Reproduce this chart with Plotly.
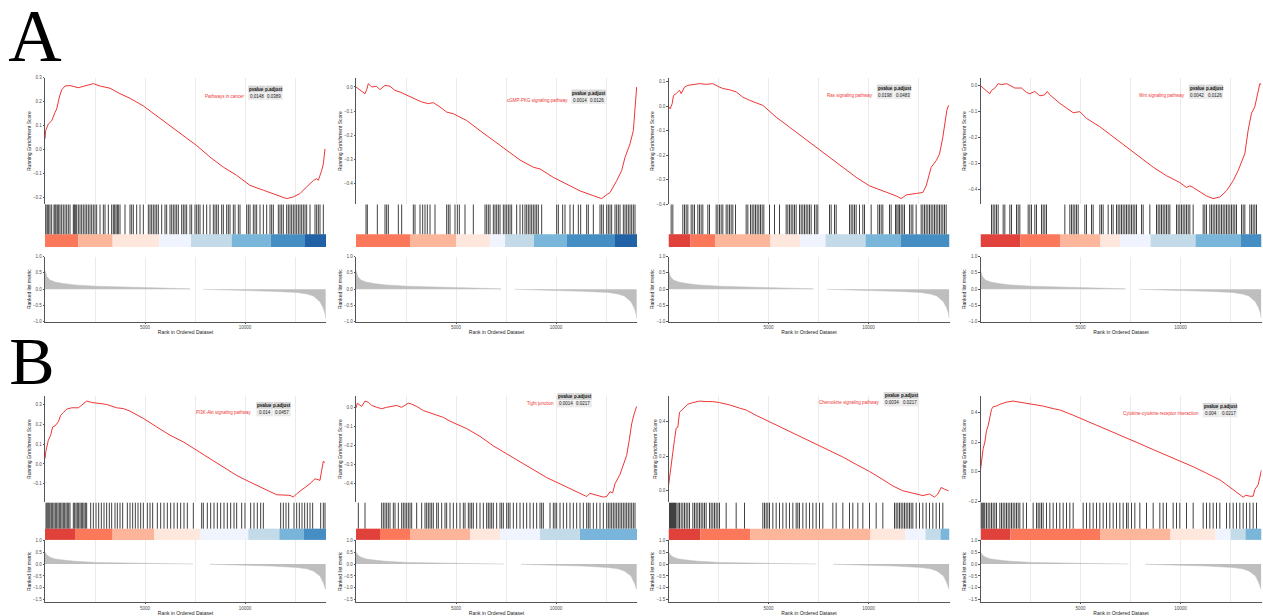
import plotly.graph_objects as go

FIG_W, FIG_H = 1263, 616
N_GENES = 14050

# ---------------- ranked list metric (row A / row B) ----------------
rankA_pos_x = [1, 100, 250, 500, 917, 1500, 2583, 3800, 5083, 6200, 7250]
rankA_pos_y = [0.57, 0.38, 0.28, 0.22, 0.17, 0.13, 0.09, 0.065, 0.05, 0.03, 0.01]
rankA_neg_x = [7917, 9000, 10083, 11300, 12583, 13100, 13417, 13750, 13917, 14000, 14033]
rankA_neg_y = [-0.005, -0.02, -0.04, -0.065, -0.1, -0.15, -0.21, -0.39, -0.59, -0.75, -0.9]
rankB_pos_x = [1, 100, 250, 500, 917, 1500, 2583, 3800, 5083, 6300, 7400]
rankB_pos_y = [0.5, 0.38, 0.29, 0.22, 0.17, 0.12, 0.07, 0.045, 0.03, 0.015, 0.005]
rankB_neg_x = [8250, 9000, 10083, 11300, 12583, 13100, 13417, 13750, 13917, 14000, 14033]
rankB_neg_y = [-0.005, -0.02, -0.04, -0.08, -0.14, -0.2, -0.29, -0.5, -0.79, -0.95, -1.07]

# ---------------- pathway labels / statistics ----------------
pathways = ["Pathways in cancer", "cGMP-PKG signaling pathway", "Ras signaling pathway",
            "Wnt signaling pathway", "PI3K-Akt signaling pathway", "Tight junction",
            "Chemokine signaling pathway", "Cytokine-cytokine receptor interaction"]
pvalues = ["0.0148", "0.0014", "0.0198", "0.0042", "0.014", "0.0014", "0.0034", "0.004"]
padjust = ["0.0389", "0.0126", "0.0483", "0.0126", "0.0457", "0.0217", "0.0217", "0.0217"]

# ---------------- running enrichment score curves ----------------
es_rank_A1 = [0, 33, 167, 333, 500, 583, 717, 833, 1000, 1250, 1667, 2083, 2417, 2750, 3250, 3750, 4250, 4917, 5583, 6250, 6917, 7583, 8250, 8917, 9583, 10250, 10917, 11583, 12083, 12417, 12750, 13083, 13417, 13583, 13667, 13833, 13917, 14000]
es_val_A1 = [0.046, 0.08, 0.108, 0.121, 0.156, 0.17, 0.22, 0.25, 0.266, 0.268, 0.259, 0.27, 0.276, 0.266, 0.257, 0.234, 0.215, 0.183, 0.142, 0.1, 0.059, 0.018, -0.03, -0.072, -0.106, -0.148, -0.168, -0.189, -0.203, -0.196, -0.182, -0.154, -0.128, -0.12, -0.127, -0.086, -0.058, 0.004]
es_rank_A2 = [0, 200, 450, 533, 617, 783, 1033, 1200, 1450, 1700, 1950, 2200, 2450, 2700, 2950, 3283, 3617, 3867, 4200, 4533, 4867, 5533, 6200, 6867, 7533, 8200, 8867, 9200, 9867, 10533, 11200, 11867, 12283, 12533, 12700, 13033, 13283, 13450, 13700, 13867, 13950, 14033]
es_val_A2 = [0.0, -0.011, -0.028, -0.011, 0.014, 0.0, 0.003, -0.011, 0.007, 0.003, -0.014, -0.021, -0.031, -0.042, -0.049, -0.062, -0.069, -0.065, -0.083, -0.104, -0.111, -0.139, -0.181, -0.222, -0.264, -0.303, -0.333, -0.34, -0.375, -0.403, -0.431, -0.451, -0.463, -0.447, -0.438, -0.389, -0.347, -0.292, -0.236, -0.181, -0.083, 0.0]
es_rank_A3 = [0, 83, 183, 250, 383, 550, 633, 800, 967, 1217, 1550, 1883, 2217, 2467, 2717, 3050, 3383, 3717, 4050, 4717, 5383, 6050, 6717, 7383, 8050, 8717, 9383, 10050, 10717, 11383, 11633, 11883, 12383, 12717, 12883, 13133, 13383, 13550, 13717, 13800, 13917, 14000]
es_val_A3 = [0, -0.01, 0.011, 0.045, 0.052, 0.066, 0.052, 0.079, 0.086, 0.09, 0.093, 0.09, 0.093, 0.082, 0.073, 0.068, 0.059, 0.038, 0.025, 0.004, -0.044, -0.085, -0.126, -0.17, -0.208, -0.249, -0.29, -0.325, -0.345, -0.366, -0.377, -0.362, -0.356, -0.352, -0.325, -0.249, -0.222, -0.195, -0.126, -0.085, -0.016, 0.004]
es_rank_A4 = [0, 217, 467, 550, 717, 883, 1050, 1300, 1467, 1717, 2050, 2300, 2467, 2717, 2967, 3217, 3333, 3467, 3967, 4300, 4633, 4967, 5300, 5967, 6633, 7300, 7967, 8633, 9300, 9967, 10300, 10467, 10633, 11300, 11633, 11967, 12300, 12633, 12883, 13050, 13217, 13383, 13550, 13717, 13883, 13967, 14050]
es_val_A4 = [0, -0.016, -0.031, -0.018, -0.009, 0.008, 0.004, 0.008, 0, -0.009, -0.009, -0.026, -0.031, -0.022, -0.039, -0.035, -0.022, -0.035, -0.068, -0.087, -0.104, -0.1, -0.126, -0.158, -0.197, -0.236, -0.275, -0.314, -0.347, -0.373, -0.392, -0.386, -0.392, -0.425, -0.435, -0.429, -0.405, -0.366, -0.327, -0.295, -0.262, -0.171, -0.106, -0.081, -0.029, 0.008, 0.004]
es_rank_B1 = [0, 50, 167, 283, 383, 500, 667, 783, 917, 1083, 1333, 1667, 1833, 2083, 2333, 2667, 3083, 3583, 3917, 4250, 4917, 5583, 6250, 6917, 7583, 8250, 8917, 9583, 10250, 10917, 11583, 12250, 12417, 12583, 12917, 13250, 13500, 13750, 13833, 13917, 14000]
es_val_B1 = [0.027, 0.069, 0.12, 0.146, 0.188, 0.193, 0.214, 0.247, 0.261, 0.278, 0.285, 0.285, 0.298, 0.319, 0.312, 0.307, 0.302, 0.285, 0.281, 0.268, 0.231, 0.188, 0.146, 0.112, 0.069, 0.027, -0.015, -0.058, -0.092, -0.125, -0.156, -0.159, -0.168, -0.151, -0.125, -0.1, -0.075, -0.083, -0.032, 0.014, 0.007]
es_rank_B2 = [0, 67, 283, 450, 617, 783, 1033, 1283, 1533, 1783, 2033, 2283, 2450, 2617, 2783, 3033, 3367, 3867, 4367, 4700, 5033, 5533, 6200, 6867, 7533, 8200, 8867, 9533, 10200, 10867, 11200, 11533, 11700, 12033, 12367, 12533, 12700, 12833, 12950, 13200, 13367, 13533, 13667, 13783, 13900, 14033]
es_val_B2 = [-0.003, 0.022, 0.005, 0.033, 0.027, 0.01, 0, -0.007, 0, 0.005, 0.01, 0, 0.013, 0.022, 0.017, 0.005, -0.017, -0.033, -0.053, -0.073, -0.087, -0.112, -0.153, -0.203, -0.245, -0.287, -0.328, -0.37, -0.403, -0.437, -0.453, -0.47, -0.453, -0.462, -0.473, -0.47, -0.445, -0.45, -0.403, -0.353, -0.303, -0.253, -0.17, -0.087, -0.037, 0.005]
es_rank_B3 = [0, 83, 183, 300, 383, 467, 550, 717, 967, 1217, 1550, 1883, 2217, 2550, 3050, 3550, 3883, 4383, 4717, 5383, 6050, 6717, 7383, 8050, 8717, 9383, 10050, 10717, 11217, 11717, 12383, 12717, 13050, 13300, 13467, 13633, 13800, 14000]
es_val_B3 = [0.028, 0.112, 0.205, 0.298, 0.363, 0.369, 0.456, 0.475, 0.503, 0.512, 0.521, 0.518, 0.518, 0.512, 0.499, 0.48, 0.469, 0.438, 0.419, 0.382, 0.345, 0.307, 0.27, 0.233, 0.196, 0.153, 0.112, 0.065, 0.028, 0, -0.019, -0.028, -0.019, -0.037, -0.019, 0.019, 0.009, 0]
es_rank_B4 = [0, 50, 133, 217, 300, 383, 467, 550, 633, 800, 967, 1300, 1633, 1967, 2300, 2633, 3133, 3633, 3967, 4633, 5300, 5967, 6633, 7300, 7967, 8633, 9300, 9967, 10633, 11300, 11967, 12300, 12633, 12967, 13133, 13267, 13467, 13633, 13717, 13883, 14050]
es_val_B4 = [0.011, 0.078, 0.156, 0.2, 0.278, 0.311, 0.378, 0.422, 0.44, 0.444, 0.456, 0.471, 0.478, 0.471, 0.462, 0.456, 0.444, 0.427, 0.418, 0.382, 0.344, 0.307, 0.267, 0.227, 0.189, 0.149, 0.111, 0.071, 0.033, -0.011, -0.056, -0.089, -0.122, -0.151, -0.173, -0.16, -0.167, -0.167, -0.122, -0.089, 0.011]

# ---------------- gene-set hit positions (ranks) ----------------
hits_A1 = [0, 50, 117, 183, 250, 333, 450, 500, 550, 617, 683, 750, 833, 917, 1000, 1083, 1167, 1250, 1417, 1467, 1517, 1583, 1667, 1750, 1833, 1917, 2000, 2083, 2167, 2250, 2333, 2417, 2500, 2583, 2750, 2917, 3000, 3167, 3333, 3417, 3483, 3550, 3617, 3667, 3750, 4000, 4250, 4333, 4417, 4583, 4750, 4917, 5167, 5250, 5333, 5417, 5500, 5583, 5667, 5833, 6000, 6083, 6250, 6333, 6417, 6500, 6583, 6667, 6833, 6917, 7000, 7083, 7250, 7333, 7500, 7583, 7667, 7750, 7917, 8083, 8250, 8417, 8500, 8583, 8667, 8833, 8917, 9083, 9167, 9250, 9417, 9500, 9667, 9750, 10083, 10167, 10250, 10417, 10500, 10583, 10750, 10917, 11083, 11250, 11333, 11417, 11667, 11750, 11833, 11917, 12083, 12167, 12250, 12333, 12417, 12500, 12583, 12667, 12750, 12833, 12917, 13000, 13083, 13250, 13500, 13583, 13667, 13750, 13917]
hits_A2 = [500, 567, 1067, 1450, 1533, 1617, 2117, 2283, 2867, 2950, 3200, 3333, 3450, 3567, 3700, 3950, 4533, 4617, 4700, 4950, 5067, 5167, 5450, 5867, 6450, 6533, 6617, 6700, 6867, 6950, 7033, 7117, 7200, 7367, 7450, 7533, 7617, 7700, 7783, 8033, 8200, 8333, 8450, 8533, 8617, 8700, 8783, 8867, 8950, 9033, 9117, 9283, 10033, 10117, 10333, 10450, 10700, 10867, 11117, 11233, 11533, 11617, 11867, 12200, 12283, 12367, 12533, 12617, 12700, 12783, 12950, 13033, 13117, 13200, 13367, 13450, 13533, 13617, 13700, 13783, 13867, 13950]
hits_A3 = [133, 217, 717, 800, 883, 967, 1133, 1217, 1300, 1467, 1550, 1633, 1717, 1967, 2050, 2383, 2467, 2550, 2633, 2717, 2883, 2967, 3050, 3133, 3217, 3350, 3883, 3967, 4100, 4183, 4267, 4350, 4433, 4517, 4600, 4683, 4767, 5050, 5300, 5550, 5883, 5967, 6050, 6133, 6217, 6300, 6383, 6550, 6633, 6717, 6800, 6883, 6967, 7050, 7133, 7300, 7383, 7467, 8050, 8133, 8300, 8383, 9050, 9133, 9217, 9300, 9383, 9550, 9717, 9800, 10133, 10467, 10550, 10633, 10717, 11050, 11133, 11350, 11417, 11483, 11550, 11633, 11717, 11800, 12050, 12133, 12217, 12383, 12633, 12717, 12800, 12883, 12967, 13050, 13133, 13217, 13300, 13383, 13467, 13550, 13633, 13717, 13800, 13883]
hits_A4 = [550, 633, 717, 800, 883, 1133, 1217, 1467, 1550, 1800, 1883, 1967, 2383, 2467, 2550, 2717, 2800, 3050, 3133, 3217, 3300, 4217, 4467, 4550, 4633, 4717, 4800, 4883, 5217, 5300, 5550, 5633, 5967, 6050, 6133, 6383, 6550, 6633, 6800, 6883, 6967, 7050, 7133, 7217, 7300, 7383, 7467, 7550, 7633, 7717, 7800, 8050, 8133, 8467, 8800, 8883, 8967, 9050, 9133, 9217, 9300, 9383, 9467, 9800, 9883, 9967, 10050, 10133, 10217, 10300, 10383, 10467, 10633, 11133, 11217, 11300, 11467, 11550, 11633, 11717, 11800, 11883, 11967, 12050, 12133, 12217, 12300, 12383, 12467, 12550, 12633, 12717, 12800, 13050, 13133, 13217, 13467, 13550, 13633, 13717, 13800]
hits_B1 = [50, 100, 150, 200, 250, 317, 383, 450, 517, 583, 650, 717, 783, 850, 917, 983, 1050, 1117, 1183, 1250, 1417, 1483, 1550, 1617, 1683, 1750, 1817, 1883, 1950, 2017, 2083, 2283, 2417, 2550, 2683, 2817, 2950, 3083, 3217, 3333, 3500, 3617, 3750, 3883, 4117, 4250, 4383, 4517, 4650, 4783, 4917, 5117, 5250, 5383, 5617, 5783, 5950, 6117, 6283, 6450, 6617, 6783, 6950, 7117, 7417, 7833, 7917, 8117, 8283, 8450, 8617, 8783, 8950, 9117, 9283, 9450, 9583, 9833, 10000, 10283, 10450, 10617, 10783, 10917, 11783, 11917, 12050, 12183, 12450, 12583, 12717, 12850, 12983, 13117, 13250, 13383, 13783, 13917, 14000]
hits_B2 = [117, 450, 1283, 1367, 1450, 1533, 1617, 1700, 1867, 1950, 2117, 2283, 2367, 2450, 2533, 2617, 2700, 2783, 3033, 3283, 3450, 3533, 3617, 3700, 3783, 3867, 4033, 4117, 4283, 4450, 4533, 4700, 4867, 5033, 5200, 5367, 5450, 5617, 5700, 5783, 5867, 6033, 6200, 6367, 6533, 6617, 6700, 6783, 6867, 7033, 7200, 7283, 7367, 7533, 7617, 7700, 7867, 8033, 8200, 8367, 8533, 8700, 8867, 9033, 9200, 9283, 9367, 9700, 9867, 9950, 10033, 10200, 10367, 10533, 10700, 10867, 11033, 11200, 11367, 11533, 11617, 11700, 11867, 12033, 12200, 12367, 12533, 12617, 12700, 12783, 12867, 12950, 13033, 13117, 13200, 13283, 13367, 13450, 13533, 13617, 13700, 13783, 13867, 13950]
hits_B3 = [50, 100, 150, 200, 250, 300, 350, 417, 483, 550, 633, 717, 800, 883, 967, 1050, 1217, 1300, 1383, 1467, 1550, 1633, 1717, 1800, 1883, 2050, 2133, 2217, 2300, 2383, 2467, 2550, 2883, 3383, 3800, 4717, 4800, 4883, 4967, 5050, 5217, 5383, 5550, 5717, 5883, 6050, 6217, 6383, 6467, 6550, 6717, 6883, 7050, 7217, 7383, 7550, 7717, 8217, 8383, 8717, 9050, 9217, 9467, 9717, 10050, 10383, 10717, 11300, 11383, 11467, 11550, 11633, 11717, 11800, 11883, 11967, 12050, 12133, 12217, 12383, 12550, 12717, 12883, 13050, 13217, 13383, 13550, 13717]
hits_B4 = [17, 67, 117, 167, 217, 300, 383, 467, 550, 633, 717, 800, 967, 1050, 1133, 1217, 1300, 1383, 1467, 1550, 1633, 1717, 1800, 1883, 1967, 2133, 2300, 2633, 2800, 2883, 2967, 3050, 3133, 3300, 3467, 3633, 3800, 3967, 4133, 4300, 4467, 4633, 5133, 5300, 5467, 5633, 5800, 5967, 6133, 6300, 6467, 6633, 6800, 6967, 7133, 7300, 7383, 7550, 7717, 7967, 8300, 8633, 8967, 9133, 9300, 9633, 9800, 9967, 10300, 10633, 11133, 11300, 11467, 11633, 11800, 11967, 12300, 12467, 12633, 12800, 12967, 13133, 13300, 13467, 13633, 13800]

# ---------------- colour bar segments (rank boundaries, palette index) ----------------
PALETTE = ["#08519C", "#3182BD", "#6BAED6", "#BDD7E7", "#EFF3FF",
           "#FEE5D9", "#FCAE91", "#FB6A4A", "#DE2D26", "#A50F15"]
seg_A1 = [0, 1667, 3383, 5717, 7300, 9333, 11283, 13000, 14050]
segc_A1 = [7, 6, 5, 4, 3, 2, 1, 0]
seg_A2 = [0, 2700, 5000, 6700, 7450, 8900, 10550, 12950, 14050]
segc_A2 = [7, 6, 5, 4, 3, 2, 1, 0]
seg_A3 = [0, 1100, 2350, 5100, 6600, 7850, 9850, 11600, 14050]
segc_A3 = [8, 7, 6, 5, 4, 3, 2, 1]
seg_A4 = [0, 2000, 4000, 6000, 7000, 8500, 10750, 13000, 14050]
segc_A4 = [8, 7, 6, 5, 4, 3, 2, 1]
seg_B1 = [0, 1500, 3383, 5450, 7783, 10167, 11717, 12950, 14050]
segc_B1 = [8, 7, 6, 5, 4, 3, 2, 1]
seg_B2 = [0, 1200, 2700, 5700, 7200, 9200, 11200, 14050]
segc_B2 = [8, 7, 6, 5, 4, 3, 2]
seg_B3 = [0, 1600, 4100, 10100, 11850, 12850, 13600, 14050]
segc_B3 = [8, 7, 6, 5, 4, 3, 2]
seg_B4 = [0, 1500, 6000, 9500, 11750, 12500, 13250, 14050]
segc_B4 = [8, 7, 6, 5, 4, 3, 2]

es_ranks = [es_rank_A1, es_rank_A2, es_rank_A3, es_rank_A4, es_rank_B1, es_rank_B2, es_rank_B3, es_rank_B4]
es_vals = [es_val_A1, es_val_A2, es_val_A3, es_val_A4, es_val_B1, es_val_B2, es_val_B3, es_val_B4]
hits = [hits_A1, hits_A2, hits_A3, hits_A4, hits_B1, hits_B2, hits_B3, hits_B4]
segs = [seg_A1, seg_A2, seg_A3, seg_A4, seg_B1, seg_B2, seg_B3, seg_B4]
segcs = [segc_A1, segc_A2, segc_A3, segc_A4, segc_B1, segc_B2, segc_B3, segc_B4]
es_dtick = [0.1, 0.1, 0.1, 0.1, 0.1, 0.1, 0.2, 0.2]
ranked = [(rankA_pos_x, rankA_pos_y, rankA_neg_x, rankA_neg_y),
          (rankB_pos_x, rankB_pos_y, rankB_neg_x, rankB_neg_y)]

# ---------------- layout geometry (pixels) ----------------
COL_LEFT = [45, 356, 668.5, 980.5]
COL_W = 281
ROWS = [
    dict(es=(76.5, 204.0), tk=(204.0, 247.0), rk=(256.7, 322.3), rk_range=[-1.0, 1.0], rk_dtick=0.5),
    dict(es=(397.5, 504.0), tk=(504.5, 542.3), rk=(542.8, 605.0), rk_range=[-1.6, 1.0], rk_dtick=0.5),
]
TABLE_POS = [(203, 84), (215, 88), (208, 83), (208, 83), (211, 403), (201, 394), (215, 393), (222, 404)]
CELL_W, CELL_H = 17.5, 7.5

FONT = "Liberation Sans"
TICKFONT = dict(family=FONT, size=4.5, color="#4D4D4D")
TITLEFONT = dict(family=FONT, size=5, color="#222222")
GRID = "#EBEBEB"
AXLINE = "#555555"


def xp(px):
    return px / FIG_W


def yp(py):
    return 1 - py / FIG_H


fig = go.Figure()
layout = {}
shapes = []
annotations = []

for p in range(8):
    r, c = divmod(p, 4)
    row = ROWS[r]
    L = COL_LEFT[c]
    xdom = [xp(L), xp(L + COL_W)]
    base = p * 3
    ids = [base + 1, base + 2, base + 3]
    xa = ["x%d" % i for i in ids]
    ya = ["y%d" % i for i in ids]

    # --- ES curve ---
    fig.add_trace(go.Scatter(x=es_ranks[p], y=es_vals[p], mode="lines",
                             line=dict(color="#EE3535", width=1),
                             xaxis=xa[0], yaxis=ya[0], showlegend=False, hoverinfo="skip"))
    lo, hi = min(es_vals[p]), max(es_vals[p])
    pad = 0.05 * (hi - lo)
    layout["xaxis%d" % ids[0]] = dict(domain=xdom, anchor=ya[0], range=[0, N_GENES],
                                     tickvals=[2500, 5000, 7500, 10000, 12500], showticklabels=False,
                                     ticks="", showgrid=True, gridcolor=GRID, gridwidth=0.6,
                                     zeroline=False, showline=False)
    layout["yaxis%d" % ids[0]] = dict(domain=[yp(row["es"][1]), yp(row["es"][0])], anchor=xa[0],
                                     range=[lo - pad, hi + pad], dtick=es_dtick[p], tick0=0,
                                     tickformat=".1f", ticks="outside", ticklen=1.5, tickwidth=0.5,
                                     tickcolor=AXLINE, tickfont=TICKFONT, showgrid=False,
                                     zeroline=False, showline=True, linecolor=AXLINE, linewidth=0.6,
                                     title=dict(text="Running Enrichment Score", font=TITLEFONT, standoff=1))

    # --- hit ticks + colour bar ---
    tx, ty = [], []
    for h in hits[p]:
        tx += [h, h, None]
        ty += [0.3, 1.0, None]
    fig.add_trace(go.Scatter(x=tx, y=ty, mode="lines", line=dict(color="rgba(0,0,0,0.75)", width=1),
                             xaxis=xa[1], yaxis=ya[1], showlegend=False, hoverinfo="skip"))
    sb = segs[p]
    fig.add_trace(go.Bar(x=[sb[i + 1] - sb[i] for i in range(len(sb) - 1)], base=sb[:-1],
                         y=[0.15] * (len(sb) - 1), width=0.3, orientation="h",
                         marker=dict(color=[PALETTE[k] for k in segcs[p]], line=dict(width=0)),
                         opacity=0.9, xaxis=xa[1], yaxis=ya[1], showlegend=False, hoverinfo="skip"))
    layout["xaxis%d" % ids[1]] = dict(domain=xdom, anchor=ya[1], range=[0, N_GENES], visible=False)
    layout["yaxis%d" % ids[1]] = dict(domain=[yp(row["tk"][1]), yp(row["tk"][0])], anchor=xa[1],
                                     range=[0, 1], visible=False)

    # --- ranked list metric ---
    px_, py_, nx_, ny_ = ranked[r]
    for xs, ys in ((px_, py_), (nx_, ny_)):
        fig.add_trace(go.Scatter(x=xs, y=ys, mode="lines", fill="tozeroy",
                                 line=dict(color="#BEBEBE", width=0.5), fillcolor="#BEBEBE",
                                 xaxis=xa[2], yaxis=ya[2], showlegend=False, hoverinfo="skip"))
    layout["xaxis%d" % ids[2]] = dict(domain=xdom, anchor=ya[2], range=[0, N_GENES],
                                     tickvals=[5000, 10000], ticktext=["5000", "10000"],
                                     ticks="outside", ticklen=1.5, tickwidth=0.5, tickcolor=AXLINE,
                                     tickfont=TICKFONT, showgrid=True, gridcolor=GRID, gridwidth=0.6,
                                     minor=dict(tickvals=[2500, 7500, 12500], showgrid=True,
                                                gridcolor=GRID, gridwidth=0.6, ticks=""),
                                     zeroline=False, showline=True, linecolor=AXLINE, linewidth=0.6,
                                     title=dict(text="Rank in Ordered Dataset", font=TITLEFONT, standoff=1))
    layout["yaxis%d" % ids[2]] = dict(domain=[yp(row["rk"][1]), yp(row["rk"][0])], anchor=xa[2],
                                     range=row["rk_range"], dtick=row["rk_dtick"], tick0=0,
                                     tickformat=".1f", ticks="outside", ticklen=1.5, tickwidth=0.5,
                                     tickcolor=AXLINE, tickfont=TICKFONT, showgrid=False,
                                     zeroline=False, showline=True, linecolor=AXLINE, linewidth=0.6,
                                     title=dict(text="Ranked list metric", font=TITLEFONT, standoff=1))

    # --- statistics table ---
    dx, ty0 = TABLE_POS[p]
    tx0 = L + dx
    for j, (hdr, val) in enumerate((("pvalue", pvalues[p]), ("p.adjust", padjust[p]))):
        cx0 = tx0 + j * CELL_W
        shapes.append(dict(type="rect", xref="paper", yref="paper",
                           x0=xp(cx0 + 0.3), x1=xp(cx0 + CELL_W - 0.3),
                           y0=yp(ty0 + CELL_H - 0.3), y1=yp(ty0 + 0.3),
                           fillcolor="#D6D6D6", line=dict(width=0)))
        shapes.append(dict(type="rect", xref="paper", yref="paper",
                           x0=xp(cx0 + 0.3), x1=xp(cx0 + CELL_W - 0.3),
                           y0=yp(ty0 + 2 * CELL_H - 0.3), y1=yp(ty0 + CELL_H + 0.3),
                           fillcolor="#EAEAEA", line=dict(width=0)))
        annotations.append(dict(xref="paper", yref="paper", x=xp(cx0 + CELL_W / 2),
                                y=yp(ty0 + CELL_H / 2), text="<b>%s</b>" % hdr, showarrow=False,
                                font=dict(family=FONT, size=4.5, color="#111111"),
                                xanchor="center", yanchor="middle"))
        annotations.append(dict(xref="paper", yref="paper", x=xp(cx0 + CELL_W / 2),
                                y=yp(ty0 + 1.5 * CELL_H), text=val, showarrow=False,
                                font=dict(family=FONT, size=4.5, color="#222222"),
                                xanchor="center", yanchor="middle"))
    annotations.append(dict(xref="paper", yref="paper", x=xp(tx0 - 1.5), y=yp(ty0 + 1.5 * CELL_H),
                            text=pathways[p], showarrow=False,
                            font=dict(family=FONT, size=4.5, color="#EE3535"),
                            xanchor="right", yanchor="middle"))

# panel letters
annotations.append(dict(xref="paper", yref="paper", x=xp(35), y=yp(34), text="A", showarrow=False,
                        font=dict(family="Liberation Serif", size=74, color="#000000"),
                        height=56, width=62, xanchor="center", yanchor="middle"))
annotations.append(dict(xref="paper", yref="paper", x=xp(32), y=yp(362), text="B", showarrow=False,
                        font=dict(family="Liberation Serif", size=68, color="#000000"),
                        height=50, width=52, xanchor="center", yanchor="middle"))

fig.update_layout(width=FIG_W, height=FIG_H, margin=dict(l=0, r=0, t=0, b=0),
                  paper_bgcolor="white", plot_bgcolor="white", showlegend=False,
                  shapes=shapes, annotations=annotations, **layout)

fig.write_html("out.html", config={"displayModeBar": False},
               post_script="document.body.style.margin='0px';document.body.style.overflow='hidden';")
